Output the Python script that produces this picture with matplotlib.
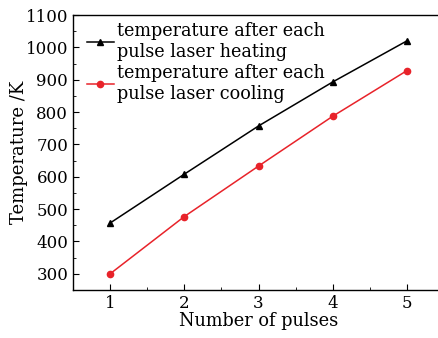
import matplotlib
matplotlib.use("Agg")
import matplotlib.pyplot as plt
from matplotlib.ticker import MultipleLocator

pulses = [1, 2, 3, 4, 5]
temp_heating = [457, 608, 757, 893, 1020]
temp_cooling = [300, 477, 633, 787, 928]
label_heating = "temperature after each\npulse laser heating"
label_cooling = "temperature after each\npulse laser cooling"

plt.rcParams.update({
    "font.family": "serif",
    "font.serif": ["DejaVu Serif"],
    "font.size": 12,
    "axes.linewidth": 1.0,
})

fig = plt.figure(figsize=(4.38, 3.38), dpi=100)
ax = fig.add_axes([73 / 438, 1 - 290 / 338, (444 - 73) / 438, (290 - 15) / 338])

ax.plot(pulses, temp_heating, "-^", color="black", lw=1.1, ms=4.5, label=label_heating)
ax.plot(pulses, temp_cooling, "-o", color="#e8232a", lw=1.1, ms=4.5, label=label_cooling)

ax.set_xlim(0.5, 5.5)
ax.set_ylim(250, 1100)
ax.xaxis.set_major_locator(MultipleLocator(1))
ax.xaxis.set_minor_locator(MultipleLocator(0.5))
ax.yaxis.set_major_locator(MultipleLocator(100))
ax.yaxis.set_minor_locator(MultipleLocator(50))
ax.tick_params(which="both", direction="in", top=False, right=False, labelsize=12)
ax.tick_params(which="major", length=4)
ax.tick_params(which="minor", length=2.5)
ax.spines["right"].set_visible(False)

ax.set_xlabel("Number of pulses", fontsize=12.8, labelpad=0)
ax.set_ylabel("Temperature /K", fontsize=13, labelpad=-2)

ax.legend(loc="upper left", bbox_to_anchor=(0.005, 1.02), frameon=False,
          handlelength=1.5, handletextpad=0.2, labelspacing=0.2,
          borderaxespad=0.3, fontsize=12.7)

fig.savefig("out.png", dpi=100)
